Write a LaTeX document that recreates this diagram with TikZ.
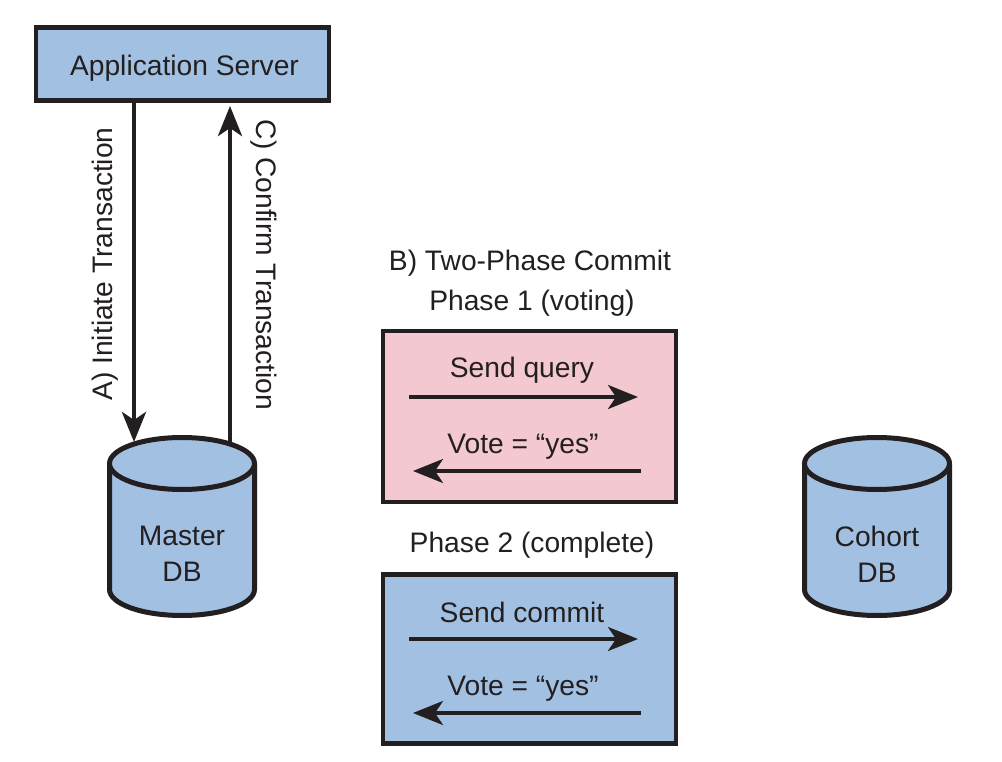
\documentclass[tikz,border=0pt]{standalone}
\usepackage{fontspec}
\setmainfont{Liberation Sans}
\usetikzlibrary{arrows.meta,shapes.geometric}
\definecolor{dbblue}{HTML}{A2C0E2}
\definecolor{votepink}{HTML}{F4C8D0}
\definecolor{inkgray}{HTML}{231F20}
\begin{document}
\begin{tikzpicture}[x=1pt,y=-1pt,line width=4.5pt,color=inkgray,text=inkgray,
  every node/.style={font=\fontsize{28.2}{36}\selectfont},
  panel/.style={draw,rectangle,inner sep=0pt,minimum width=293pt},
  dbstore/.style={draw,fill=dbblue,line width=5pt},
  flow/.style={line width=4.5pt,-{Stealth[length=30pt,width=24pt,inset=8pt]}},
  msg/.style={line width=3.5pt,-{Stealth[length=30pt,width=24pt,inset=8pt]}}]
 \useasboundingbox (0,0) rectangle (1002,762);
 \node[panel,fill=dbblue,minimum height=73pt,text height=28.5pt,text depth=6pt] (server) at (182.5,64) {\hspace*{4pt}Application Server};
 % the two database drums
 \foreach \cx in {182,877} {
  \draw[dbstore] (\cx-72.5,463.5)--(\cx-72.5,589.5)
    arc[start angle=180,delta angle=-180,x radius=72.5,y radius=26]
    --(\cx+72.5,463.5);
  \draw[dbstore] (\cx,463.5) circle[x radius=72.5,y radius=26];
 }
 \node (masterlbl) at (182,554) [align=center] {Master\\DB};
 \node (cohortlbl) at (877,554) [align=center] {Cohort\\DB};
 % server and master links
 \coordinate (inittip) at (134,442);
 \coordinate (confbase) at (230,445);
 \coordinate (conftip) at (230,106);
 \draw[flow] (server.south -| inittip)--(inittip);
 \draw[flow] (confbase)--(conftip);
 \node[rotate=90] (initlbl) at (105,264) {A) Initiate Transaction};
 \node[rotate=-90] (conflbl) at (264,265) {C) Confirm Transaction};
 % commit phases
 \node (twophase) at (530,263) {B) Two-Phase Commit};
 \node (phaseone) at (532,303) {Phase 1 (voting)};
 \node[panel,fill=votepink,minimum height=171pt] (votebox) at (529.5,416.5) {};
 \node (phasetwo) at (532,545) {Phase 2 (complete)};
 \node[panel,fill=dbblue,minimum height=169pt] (donebox) at (529.5,659) {};
 \coordinate (qa) at (409,397); \coordinate (qb) at (638,397);
 \coordinate (va) at (641,471); \coordinate (vb) at (413,471);
 \coordinate (ca) at (409,639); \coordinate (cb) at (638,639);
 \coordinate (ya) at (641,713); \coordinate (yb) at (413,713);
 \draw[msg] (qa)--(qb);
 \draw[msg] (va)--(vb);
 \draw[msg] (ca)--(cb);
 \draw[msg] (ya)--(yb);
 \node (querylbl) at (522,370) {Send query};
 \node (votelbl) at (523,447) {Vote = “yes”};
 \node (commitlbl) at (522,612) {Send commit};
 \node (yeslbl) at (523,689) {Vote = “yes”};
\end{tikzpicture}
\end{document}
